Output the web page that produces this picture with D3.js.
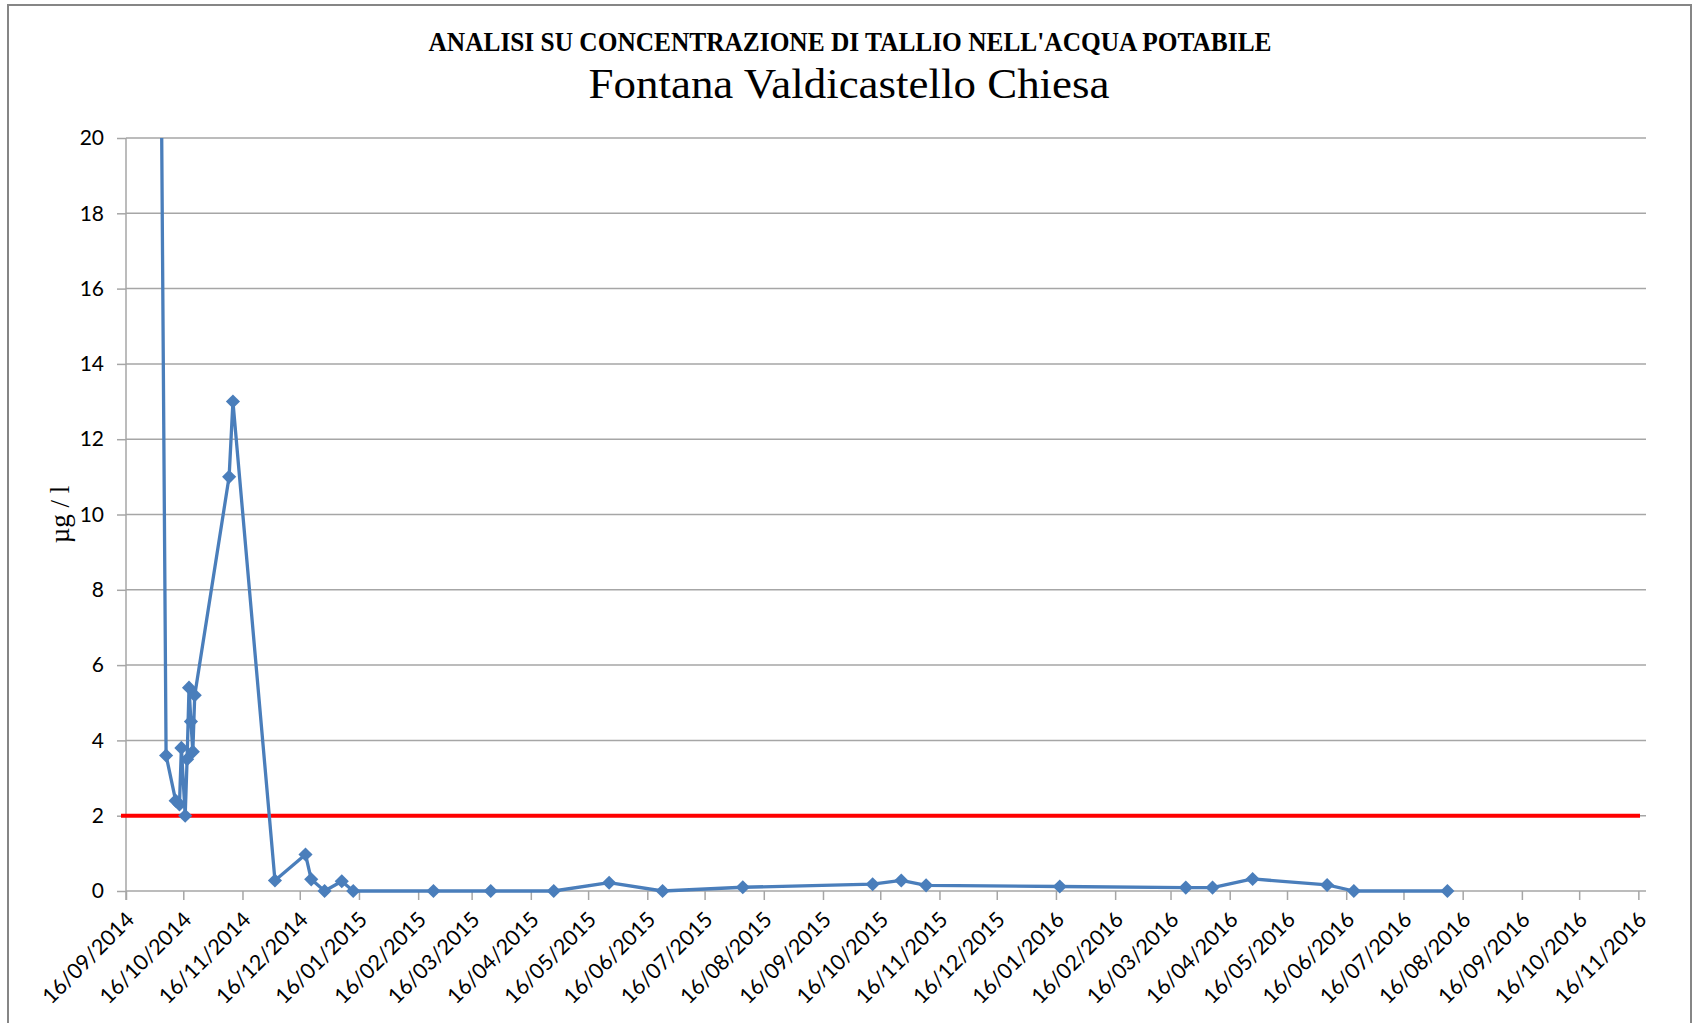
<!DOCTYPE html>
<html>
<head>
<meta charset="utf-8">
<script src="https://cdn.jsdelivr.net/npm/d3@7"></script>
<style>
  html, body { margin: 0; padding: 0; background: #fff; }
  svg { display: block; }
</style>
</head>
<body>
<svg id="chart" width="1692" height="1023"></svg>
<script>
const titleText = "ANALISI SU CONCENTRAZIONE DI TALLIO NELL'ACQUA POTABILE";
const subtitleText = "Fontana Valdicastello Chiesa";
const yAxisLabel = "µg / l";

const sampleDates = [
  "2014-10-04","2014-10-07","2014-10-12","2014-10-14","2014-10-15","2014-10-17",
  "2014-10-18","2014-10-19","2014-10-20","2014-10-21","2014-10-22","2014-11-09",
  "2014-11-11","2014-12-03","2014-12-19","2014-12-22","2014-12-29","2015-01-07",
  "2015-01-13","2015-02-24","2015-03-26","2015-04-28","2015-05-27","2015-06-24",
  "2015-08-05","2015-10-12","2015-10-27","2015-11-09","2016-01-18","2016-03-24",
  "2016-04-07","2016-04-28","2016-06-06","2016-06-20","2016-08-08"
];
const thalliumValues = [
  25.0, 3.6, 2.4, 2.3, 3.8, 2.0,
  3.5, 5.4, 4.5, 3.7, 5.2, 11.0,
  13.0, 0.28, 0.97, 0.31, 0.0, 0.26,
  0.0, 0.0, 0.0, 0.0, 0.22, 0.0,
  0.1, 0.18, 0.28, 0.15, 0.12, 0.09,
  0.09, 0.32, 0.16, 0.0, 0.0
];
const limitValue = 2;
const yTicks = [0, 2, 4, 6, 8, 10, 12, 14, 16, 18, 20];
const xDomain = ["2014-09-16", "2016-11-20"];
const xTickStart = "2014-09-16";
const xTickCount = 27;

(function () {
const parse = d3.timeParse("%Y-%m-%d");
const fmt = d3.timeFormat("%d/%m/%Y");
const data = sampleDates.map((d, i) => ({ date: parse(d), value: thalliumValues[i] }));
const xTickValues = d3.range(xTickCount).map(i => d3.timeMonth.offset(parse(xTickStart), i));

const svg = d3.select("#chart");
const pL = 126, pR = 1646, pT = 138, pB = 891;

const x = d3.scaleTime().domain(xDomain.map(parse)).range([pL, pR]);
const y = d3.scaleLinear().domain([0, 20]).range([pB, pT]);

// outer chart border
svg.append("rect")
  .attr("x", 8).attr("y", 5).attr("width", 1683).attr("height", 1040)
  .attr("fill", "none").attr("stroke", "#868686").attr("stroke-width", 2);

// titles
svg.append("text")
  .attr("x", 850).attr("y", 51)
  .attr("text-anchor", "middle")
  .attr("font-family", "'Liberation Serif', 'DejaVu Serif', serif")
  .attr("font-weight", "bold")
  .attr("font-size", 28)
  .attr("textLength", 843).attr("lengthAdjust", "spacingAndGlyphs")
  .attr("fill", "#000")
  .text(titleText);

svg.append("text")
  .attr("x", 849).attr("y", 98)
  .attr("text-anchor", "middle")
  .attr("font-family", "'Liberation Serif', 'DejaVu Serif', serif")
  .attr("font-size", 43)
  .attr("textLength", 521).attr("lengthAdjust", "spacingAndGlyphs")
  .attr("fill", "#000")
  .text(subtitleText);

// horizontal gridlines
svg.append("g")
  .selectAll("line")
  .data(yTicks.filter(t => t > 0))
  .join("line")
  .attr("x1", pL).attr("x2", pR)
  .attr("y1", d => y(d)).attr("y2", d => y(d))
  .attr("stroke", "#a6a6a6").attr("stroke-width", 1.5);

// y axis
const yAxis = svg.append("g")
  .attr("transform", `translate(${pL},0)`)
  .call(d3.axisLeft(y).tickValues(yTicks).tickSize(9).tickPadding(13).tickFormat(d3.format("d")));
yAxis.select(".domain").attr("stroke", "#a6a6a6").attr("stroke-width", 1.5)
  .attr("d", `M0,${pT}V${pB + 9}`);
yAxis.selectAll(".tick line").attr("stroke", "#a6a6a6").attr("stroke-width", 1.5);
yAxis.selectAll(".tick text")
  .attr("font-family", "Lato, 'Open Sans', sans-serif")
  .attr("font-size", 21).attr("fill", "#000");

// x axis
const xAxis = svg.append("g")
  .attr("transform", `translate(0,${pB})`)
  .call(d3.axisBottom(x).tickValues(xTickValues).tickSize(9).tickFormat(fmt));
xAxis.select(".domain").attr("stroke", "#a6a6a6").attr("stroke-width", 1.5)
  .attr("d", `M${pL},0H${pR}`);
xAxis.selectAll(".tick line").attr("stroke", "#a6a6a6").attr("stroke-width", 1.5);
xAxis.selectAll(".tick text")
  .attr("font-family", "Lato, 'Open Sans', sans-serif")
  .attr("font-size", 21.5).attr("fill", "#000")
  .attr("text-anchor", "end")
  .attr("dy", null)
  .attr("y", 0)
  .attr("transform", "translate(9,30) rotate(-45)");

// y axis title
svg.append("text")
  .attr("transform", `translate(69,${(pT + pB) / 2}) rotate(-90)`)
  .attr("text-anchor", "middle")
  .attr("font-family", "'Liberation Serif', 'DejaVu Serif', serif")
  .attr("font-size", 27)
  .attr("fill", "#000")
  .text(yAxisLabel);

// limit line
svg.append("line")
  .attr("x1", pL - 5).attr("x2", pR - 6)
  .attr("y1", y(limitValue)).attr("y2", y(limitValue))
  .attr("stroke", "#ff0000").attr("stroke-width", 4);

// clip
svg.append("clipPath").attr("id", "plotclip")
  .append("rect").attr("x", pL - 10).attr("y", pT).attr("width", pR - pL + 20).attr("height", pB - pT + 20);

const plot = svg.append("g").attr("clip-path", "url(#plotclip)");
const line = d3.line().x(d => x(d.date)).y(d => y(d.value));
const blue = "#4a7ebb";

plot.append("path")
  .datum(data)
  .attr("d", line)
  .attr("fill", "none")
  .attr("stroke", blue)
  .attr("stroke-width", 3.3)
  .attr("stroke-linejoin", "round");

plot.selectAll("path.marker")
  .data(data)
  .join("path")
  .attr("class", "marker")
  .attr("d", d3.symbol(d3.symbolSquare, 100))
  .attr("transform", d => `translate(${x(d.date)},${y(d.value)}) rotate(45)`)
  .attr("fill", blue);
})();
</script>
</body>
</html>
